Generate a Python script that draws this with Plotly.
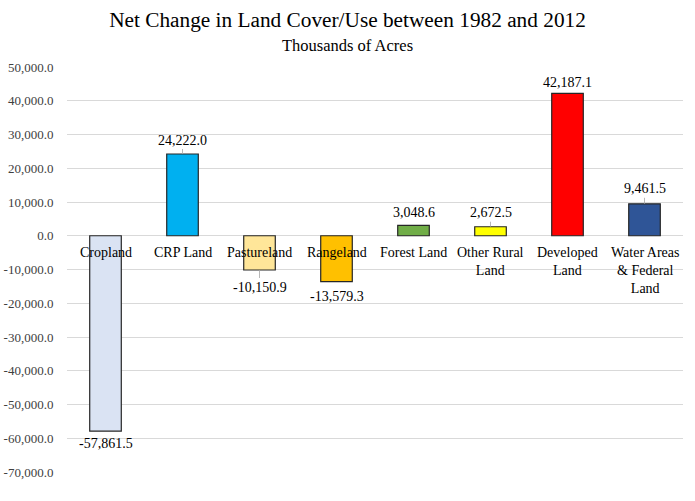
import plotly.graph_objects as go

categories = ["Cropland", "CRP Land", "Pastureland", "Rangeland", "Forest Land",
              "Other Rural Land", "Developed Land", "Water Areas & Federal Land"]
category_labels = ["Cropland", "CRP Land", "Pastureland", "Rangeland", "Forest Land",
                   "Other Rural<br>Land", "Developed<br>Land", "Water Areas<br>& Federal<br>Land"]
values = [-57861.5, 24222.0, -10150.9, -13579.3, 3048.6, 2672.5, 42187.1, 9461.5]
colors = ["#dae3f3", "#00b0f0", "#ffe699", "#ffc000", "#70ad47", "#ffff00", "#ff0000", "#2f5597"]
tick_vals = [50000, 40000, 30000, 20000, 10000, 0, -10000, -20000, -30000, -40000, -50000, -60000, -70000]
tick_text = ["50,000.0", "40,000.0", "30,000.0", "20,000.0", "10,000.0", "0.0", "-10,000.0",
             "-20,000.0", "-30,000.0", "-40,000.0", "-50,000.0", "-60,000.0", "-70,000.0"]
leader = [False, True, True, False, False, True, False, True]
offsets = [12, 14, 17, 15, 13, 14, 11, 15]

FONT = "Liberation Serif, Times New Roman, serif"

L, R, T, B = 67, 12, 67, 29
W, H = 695, 501
pw, ph = W - L - R, H - T - B

fig = go.Figure()
fig.add_trace(go.Bar(
    x=categories, y=values, width=0.41,
    marker=dict(color=colors, line=dict(color="#262626", width=1.2)),
    hoverinfo="skip",
))

def fmt(v):
    s = f"{abs(v):,.1f}"
    return ("-" if v < 0 else "") + s

annotations = []
for c, lab in zip(categories, category_labels):
    annotations.append(dict(x=c, y=0, xref="x", yref="y", text=lab, showarrow=False,
                            yanchor="top", yshift=-7,
                            font=dict(family=FONT, size=14, color="#000000")))
for c, v, ld, off in zip(categories, values, leader, offsets):
    sign = 1 if v >= 0 else -1
    if ld:
        annotations.append(dict(x=c, y=v, xref="x", yref="y", text=fmt(v), showarrow=True,
                                ax=0, ay=-sign * off, arrowhead=0, arrowwidth=0.8,
                                arrowcolor="#a6a6a6", standoff=0,
                                font=dict(family=FONT, size=14, color="#000000")))
    else:
        annotations.append(dict(x=c, y=v, xref="x", yref="y", text=fmt(v), showarrow=False,
                                yanchor="middle", yshift=sign * off,
                                font=dict(family=FONT, size=14, color="#000000")))

annotations.append(dict(x=(347.5 - L) / pw, y=(H - B - 45) / ph, xref="paper", yref="paper",
                        text="Thousands of Acres", showarrow=False,
                        xanchor="center", yanchor="middle",
                        font=dict(family=FONT, size=16.5, color="#000000")))

fig.update_layout(
    width=W, height=H,
    margin=dict(l=L, r=R, t=T, b=B),
    paper_bgcolor="white", plot_bgcolor="white",
    showlegend=False,
    title=dict(text="Net Change in Land Cover/Use between 1982 and 2012", x=0.5, xanchor="center",
               y=1 - 20 / H, yanchor="middle", font=dict(family=FONT, size=21.3, color="#000000")),
    xaxis=dict(showticklabels=False, showgrid=False, zeroline=False, showline=False,
               range=[-0.5, 7.5]),
    yaxis=dict(range=[-70000, 50000], tickvals=tick_vals, ticktext=tick_text,
               showgrid=True, gridcolor="#d9d9d9", gridwidth=1, zeroline=True,
               zerolinecolor="#d9d9d9", zerolinewidth=1, showline=False,
               automargin=False,
               ticks="outside", ticklen=10, tickcolor="rgba(0,0,0,0)",
               tickfont=dict(family=FONT, size=13, color="#404040")),
    annotations=annotations,
)

fig.write_html("out.html", config={"displayModeBar": False},
               post_script="document.body.style.margin='0';")
